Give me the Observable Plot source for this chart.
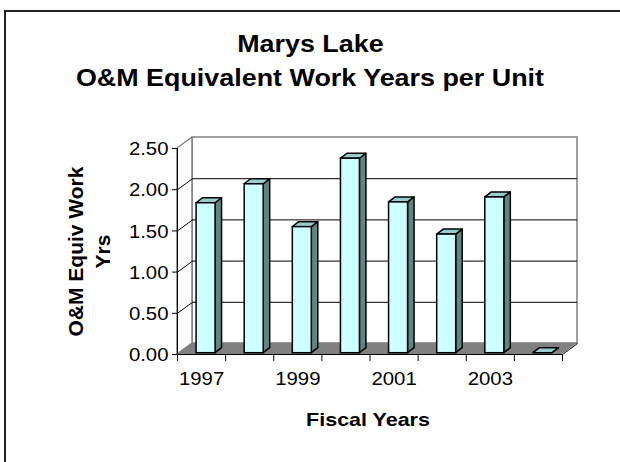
<!DOCTYPE html>
<html><head><meta charset="utf-8">
<script src="https://cdn.jsdelivr.net/npm/d3@7"></script>
<script src="https://cdn.jsdelivr.net/npm/@observablehq/plot@0.6"></script>
<style>
body{margin:0;background:#fff;}
#wrap{position:relative;width:620px;height:462px;overflow:hidden;font-family:Arial,"Liberation Sans",sans-serif;background:#fff;}
#border{position:absolute;left:4px;top:10px;width:700px;height:600px;border-left:2px solid #222;border-top:2px solid #222;pointer-events:none;}
#title{height:100px;box-sizing:border-box;padding-top:27px;text-align:center;font-weight:bold;font-size:24px;line-height:34px;color:#000;}
#title span{display:inline-block;transform:scaleX(1.12);white-space:nowrap;}
#chart svg{display:block;}
</style></head>
<body>
<div id="wrap">
  <div id="title"><span>Marys Lake</span><br><span>O&amp;M Equivalent Work Years per Unit</span></div>
  <div id="chart"></div>
  <div id="border"></div>
</div>
<script>
// ---- data ----
const years = [1997, 1998, 1999, 2000, 2001, 2002, 2003, 2004];
const values = [1.82, 2.05, 1.53, 2.36, 1.83, 1.44, 1.89, 0];
const yTicks = [0, 0.5, 1, 1.5, 2, 2.5];
const xTickLabels = [1997, 1999, 2001, 2003];
const yTitle = "O&M Equiv Work\nYrs";
const xTitle = "Fiscal Years";

// ---- geometry (pixel sizes converted to data units) ----
const W = 620, H = 362;
const mL = 177, mR = 58, mT = 48, mB = 108;
const X0 = years[0] - 0.5, X1 = years[years.length - 1] + 0.5, YMAX = 2.5;
const pxX = (W - mL - mR) / (X1 - X0);
const pxY = (H - mT - mB) / YMAX;
const DX = 15 / pxX, DY = 11 / pxY;          // wall depth
const bOff = -5 / pxX, bW = 19 / pxX;         // bar front face
const bBase = 1.3 / pxY;
const bdx = 6.5 / pxX, bdy = 5 / pxY;         // bar depth
const STRETCH = 1.13;                         // horizontal text stretch

const bars = years.map((year, i) => {
  const xl = year + bOff, xr = xl + bW, v = values[i];
  return {year, v, xl, xr, y1: bBase, y2: bBase + v};
});
const sides = bars.flatMap(b => [
  {year: b.year, x: b.xr, y1: b.y1, y2: b.y2},
  {year: b.year, x: b.xr + bdx, y1: b.y1 + bdy, y2: b.y2 + bdy}
]);
const tops = bars.flatMap(b => [
  {year: b.year, y: b.y2, x1: b.xl, x2: b.xr},
  {year: b.year, y: b.y2 + bdy, x1: b.xl + bdx, x2: b.xr + bdx}
]);
const inner = yTicks.filter(v => v > 0 && v < YMAX);
const bounds = d3.range(years.length + 1).map(i => X0 + i);

const font = "Arial, 'Liberation Sans', sans-serif";
const gray = "#808080";

const chart = Plot.plot({
  width: W, height: H,
  marginLeft: mL, marginRight: mR, marginTop: mT, marginBottom: mB,
  x: {domain: [X0, X1], axis: null},
  y: {domain: [0, YMAX], axis: null},
  style: {fontFamily: font, background: "white", overflow: "visible"},
  marks: [
    // back wall
    Plot.rect([0], {x1: X0 + DX, x2: X1 + DX, y1: DY, y2: YMAX + DY, fill: "white", stroke: gray, strokeWidth: 1.5}),
    // left wall
    Plot.areaY([{x: X0, y1: 0, y2: YMAX}, {x: X0 + DX, y1: DY, y2: YMAX + DY}],
      {x: "x", y1: "y1", y2: "y2", fill: "white", stroke: gray, strokeWidth: 1.5}),
    // floor
    Plot.areaX([{y: 0, x1: X0, x2: X1}, {y: DY, x1: X0 + DX, x2: X1 + DX}],
      {y: "y", x1: "x1", x2: "x2", fill: gray}),
    // gridlines
    Plot.ruleY(inner, {y: d => d + DY, x1: X0 + DX, x2: X1 + DX, stroke: "black", strokeWidth: 1}),
    Plot.link(inner, {x1: X0, y1: d => d, x2: X0 + DX, y2: d => d + DY, stroke: "black", strokeWidth: 1}),
    // bars
    Plot.areaY(sides, {x: "x", y1: "y1", y2: "y2", z: "year", fill: "#5f8686", stroke: "black", strokeWidth: 1.5, strokeLinejoin: "round"}),
    Plot.areaX(tops, {y: "y", x1: "x1", x2: "x2", z: "year", fill: "#99cccc", stroke: "black", strokeWidth: 1.5, strokeLinejoin: "round"}),
    Plot.rect(bars, {x1: "xl", x2: "xr", y1: "y1", y2: "y2", fill: "#ccffff", stroke: "black", strokeWidth: 1.5}),
    // axes
    Plot.ruleX([X0], {y1: 0, y2: YMAX, stroke: "black", strokeWidth: 1}),
    Plot.ruleY([0], {x1: X0, x2: X1, stroke: "black", strokeWidth: 1}),
    Plot.link([0], {x1: X1, y1: 0, x2: X1 + DX, y2: DY, stroke: "black", strokeWidth: 1}),
    Plot.ruleY(yTicks, {y: d => d, x1: X0 - 5 / pxX, x2: X0, stroke: "black", strokeWidth: 1}),
    Plot.ruleX(bounds, {x: d => d, y1: 0, y2: -7 / pxY, stroke: "black", strokeWidth: 1}),
    Plot.text(yTicks, {x: X0, y: d => d, text: d => d.toFixed(2), textAnchor: "end", dx: -9, dy: 1, fontSize: 18, fill: "black"}),
    Plot.text(xTickLabels, {x: d => d, y: 0, text: d => String(d), dy: 25, fontSize: 18, fill: "black"}),
    Plot.text([yTitle], {frameAnchor: "left", text: d => d, rotate: -90, textAnchor: "middle", lineAnchor: "middle", dx: -90, dy: 0, fontSize: 21, fontWeight: "bold", lineHeight: 1.29, fill: "black"}),
    Plot.text([xTitle], {frameAnchor: "bottom", text: d => d, textAnchor: "middle", lineAnchor: "middle", dx: -2, dy: 65, fontSize: 19, fontWeight: "bold", fill: "black"})
  ]
});
document.getElementById("chart").appendChild(chart);

// widen horizontal labels to match the reference's stretched lettering
chart.querySelectorAll("text").forEach(t => {
  if (t.querySelector("tspan")) return;
  if (/rotate/.test(t.getAttribute("transform") || "")) return;
  const len = t.getComputedTextLength();
  if (len > 0) {
    t.setAttribute("textLength", (len * STRETCH).toFixed(1));
    t.setAttribute("lengthAdjust", "spacingAndGlyphs");
  }
});
</script>
</body></html>
